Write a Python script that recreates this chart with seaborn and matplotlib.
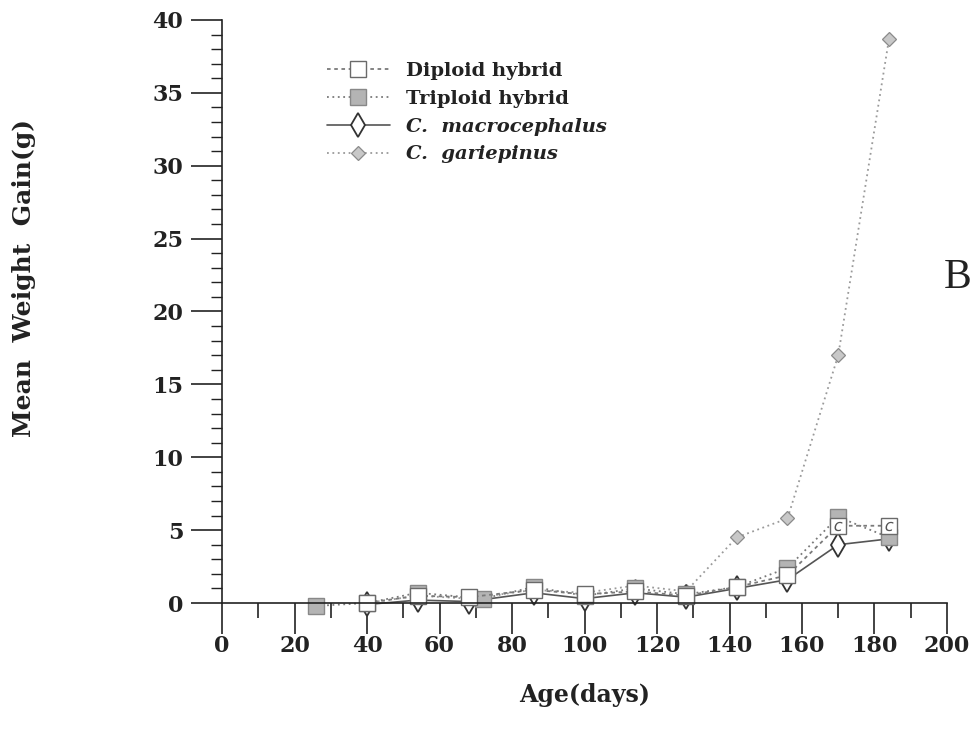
import matplotlib
matplotlib.use("Agg")
import matplotlib.pyplot as plt
import seaborn as sns
import pandas as pd

# ---- data ----
days_triploid = [26, 40, 54, 72, 86, 100, 114, 128, 142, 156, 170, 184]
triploid = [-0.2, 0.0, 0.7, 0.3, 1.1, 0.5, 1.0, 0.6, 1.1, 2.4, 5.9, 4.5]

days_other = [40, 54, 68, 86, 100, 114, 128, 142, 156, 170, 184]
diploid = [0.0, 0.5, 0.4, 0.9, 0.6, 0.8, 0.5, 1.1, 1.9, 5.3, 5.3]
macrocephalus = [-0.1, 0.2, 0.1, 0.7, 0.3, 0.7, 0.4, 1.0, 1.6, 4.0, 4.4]
gariepinus = [0.0, 0.5, 0.3, 0.9, 0.7, 1.2, 0.8, 4.5, 5.8, 17.0, 38.7]

labels = ["Diploid hybrid", "Triploid hybrid", "C.  macrocephalus", "C.  gariepinus"]
x_ticks = [0, 20, 40, 60, 80, 100, 120, 140, 160, 180, 200]
y_ticks = [0, 5, 10, 15, 20, 25, 30, 35, 40]

sns.set_theme(style="ticks")
plt.rcParams["font.family"] = ["DejaVu Serif"]

fig = plt.figure(figsize=(9.79, 7.45), dpi=100)
ax = fig.add_axes([0.2268, 0.1906, 0.7405, 0.7826])

dotted = (0, (1, 2))

# C. gariepinus
sns.lineplot(x=days_other, y=gariepinus, ax=ax, color="#9a9a9a", lw=1.3,
             linestyle=dotted, marker="D", markersize=7, markerfacecolor="#c8c8c8",
             markeredgecolor="#8a8a8a", markeredgewidth=0.9, clip_on=False,
             label=labels[3])
# C. macrocephalus
sns.lineplot(x=days_other, y=macrocephalus, ax=ax, color="#555555", lw=1.2,
             marker="d", markersize=12, markerfacecolor="white",
             markeredgecolor="#333333", markeredgewidth=1.3, clip_on=False,
             label=labels[2])
# Triploid hybrid
sns.lineplot(x=days_triploid, y=triploid, ax=ax, color="#7a7a7a", lw=1.3,
             linestyle=dotted, marker="s", markersize=12, markerfacecolor="#b4b4b4",
             markeredgecolor="#888888", markeredgewidth=1.0, clip_on=False,
             label=labels[1])
# Diploid hybrid
sns.lineplot(x=days_other, y=diploid, ax=ax, color="#7a7a7a", lw=1.3,
             linestyle=(0, (2, 2)), marker="s", markersize=12, markerfacecolor="white",
             markeredgecolor="#6a6a6a", markeredgewidth=1.0, clip_on=False,
             label=labels[0])
sns.scatterplot(x=days_other[-2:], y=diploid[-2:], ax=ax, marker="$c$", s=45,
                color="#555555", linewidth=0, clip_on=False, legend=False, zorder=6)

ax.set_xlim(0, 200)
ax.set_ylim(0, 40)
ax.set_xticks(x_ticks)
ax.set_xticks(list(range(10, 200, 20)), minor=True)
ax.set_yticks(y_ticks)
ax.set_yticks([v for v in range(0, 41) if v % 5 != 0], minor=True)

sns.despine(ax=ax)
for sp in ["left", "bottom"]:
    ax.spines[sp].set_linewidth(1.2)
    ax.spines[sp].set_color("#222222")

ax.tick_params(axis="x", which="major", length=22, width=1.2, direction="out",
               color="#222222", labelsize=16, pad=1)
ax.tick_params(axis="x", which="minor", length=11, width=1.2, direction="out", color="#222222")
ax.tick_params(axis="y", which="major", length=22, width=1.2, direction="out",
               color="#222222", labelsize=16, pad=6)
ax.tick_params(axis="y", which="minor", length=8, width=1.0, direction="out", color="#222222")
for t in ax.get_xticklabels() + ax.get_yticklabels():
    t.set_fontweight("bold")
    t.set_color("#222222")

ax.set_xlabel("Age(days)", fontsize=17, fontweight="bold", color="#222222")
ax.xaxis.set_label_coords(0.5, -0.137)
ax.set_ylabel("Mean  Weight  Gain(g)", fontsize=18, fontweight="bold", color="#222222")
ax.yaxis.set_label_coords(-0.256, 0.557)

handles, labs = ax.get_legend_handles_labels()
order = [labs.index(l) for l in labels]
leg = ax.legend([handles[i] for i in order], [labs[i] for i in order],
                loc="upper left", bbox_to_anchor=(0.316, 0.940),
                bbox_transform=fig.transFigure, frameon=False, handlelength=3.25,
                handletextpad=0.8, labelspacing=0.5, fontsize=14, borderpad=0.4)
for i, txt in enumerate(leg.get_texts()):
    txt.set_fontweight("bold")
    txt.set_color("#222222")
    if i >= 2:
        txt.set_fontstyle("italic")

fig.text(0.978, 0.627, "B", fontsize=30, family="Liberation Serif", ha="center", va="center",
         color="#222222")

fig.savefig("out.png", dpi=100)
